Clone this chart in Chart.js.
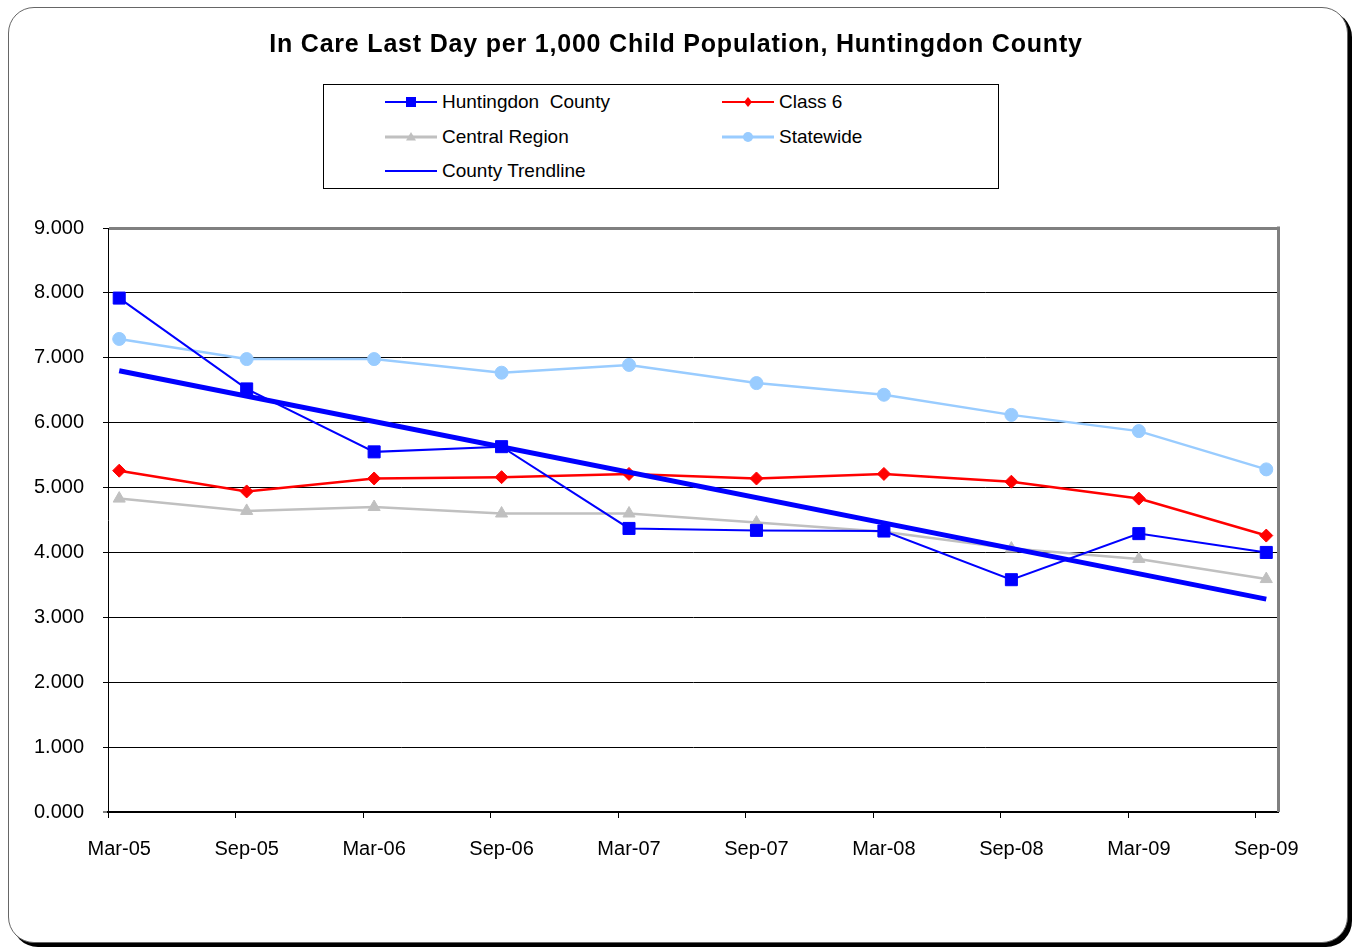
<!DOCTYPE html>
<html><head><meta charset="utf-8">
<script src="https://cdn.jsdelivr.net/npm/chart.js@4/dist/chart.umd.min.js"></script>
<style>
html,body{margin:0;padding:0;background:#fff;}
#wrap{position:relative;width:1356px;height:951px;overflow:hidden;font-family:"Liberation Sans",Arial,sans-serif;}
#frame{position:absolute;left:8px;top:7px;width:1338px;height:934px;border:1px solid #666;border-radius:26px;box-shadow:4px 4px 0 #000;background:#fff;}
#c{position:absolute;left:0;top:0;}
#title{position:absolute;left:0;width:1352px;top:29px;text-align:center;font-weight:bold;font-size:25px;letter-spacing:0.8px;color:#000;}
#legend{position:absolute;left:323px;top:84px;width:674px;height:103px;border:1px solid #000;background:#fff;}
.item{position:absolute;height:24px;line-height:24px;font-size:19px;white-space:pre;color:#000;}
.item canvas{position:absolute;left:0;top:0;}
.item span{position:absolute;left:57px;top:0;}
</style>
</head><body>
<div id="wrap">
  <div id="frame"></div>
  <canvas id="c" width="1356" height="951"></canvas>
  <div id="title">In Care Last Day per 1,000 Child Population, Huntingdon County</div>
  <div id="legend"></div>
</div>
<script>
// ---- data ----
const categories = ["Mar-05","Sep-05","Mar-06","Sep-06","Mar-07","Sep-07","Mar-08","Sep-08","Mar-09","Sep-09"];
const huntingdon = [7.92, 6.52, 5.55, 5.63, 4.37, 4.34, 4.33, 3.58, 4.29, 4.00];
const class6     = [5.26, 4.94, 5.14, 5.16, 5.21, 5.14, 5.21, 5.09, 4.83, 4.26];
const central    = [4.83, 4.64, 4.70, 4.60, 4.60, 4.46, 4.32, 4.06, 3.90, 3.59];
const statewide  = [7.29, 6.98, 6.98, 6.77, 6.89, 6.61, 6.43, 6.12, 5.87, 5.28];
const trendStart = 6.80;   // county trendline value at Mar-05
const trendEnd   = 3.28;   // county trendline value at Sep-09
const yTicks = [0,1,2,3,4,5,6,7,8,9];

const seriesNames = ["Huntingdon  County","Class 6","Central Region","Statewide","County Trendline"];

const toXY = arr => arr.map((v,i)=>({x:i,y:v}));

const datasets = [
  {label:seriesNames[0], data:toXY(huntingdon), borderColor:'#0000FF', backgroundColor:'#0000FF',
   borderWidth:2, pointStyle:'rect', pointRadius:8.5, pointBorderWidth:1, order:0},
  {label:seriesNames[4], data:[{x:0,y:trendStart},{x:categories.length-1,y:trendEnd}], borderColor:'#0000FF',
   backgroundColor:'#0000FF', borderWidth:5, pointRadius:0, order:1},
  {label:seriesNames[1], data:toXY(class6), borderColor:'#FF0000', backgroundColor:'#FF0000',
   borderWidth:2.5, pointStyle:'rectRot', pointRadius:6.5, pointBorderWidth:1, order:2},
  {label:seriesNames[2], data:toXY(central), borderColor:'#C0C0C0', backgroundColor:'#C0C0C0',
   borderWidth:2.5, pointStyle:'triangle', pointRadius:7, pointBorderWidth:1, order:3},
  {label:seriesNames[3], data:toXY(statewide), borderColor:'#99CCFF', backgroundColor:'#99CCFF',
   borderWidth:2.5, pointStyle:'circle', pointRadius:6.5, pointBorderWidth:1, order:4}
];

const plotFrame = {
  id:'plotFrame',
  beforeDatasetsDraw(chart){
    const {ctx, chartArea:a, scales} = chart;
    ctx.save();
    ctx.strokeStyle = '#808080';
    ctx.lineWidth = 3;
    ctx.beginPath();
    ctx.moveTo(a.right+0.5, a.top-1.5);
    ctx.lineTo(a.right+0.5, a.bottom);
    ctx.stroke();
    // category tick marks below the axis (sit at the left edge of each category slot)
    ctx.strokeStyle = '#000';
    ctx.lineWidth = 1;
    ctx.beginPath();
    categories.forEach((c,i)=>{
      const x = Math.round(scales.x.getPixelForValue(i - 0.088)) + 0.5;
      ctx.moveTo(x, a.bottom);
      ctx.lineTo(x, a.bottom + 6);
    });
    ctx.stroke();
    ctx.restore();
  }
};

new Chart(document.getElementById('c'), {
  type:'line',
  data:{datasets},
  options:{
    responsive:false,
    animation:false,
    events:[],
    layout:{padding:{left:0, top:228, right:78, bottom:0}},
    plugins:{legend:{display:false}, title:{display:false}, tooltip:{enabled:false}},
    elements:{line:{tension:0}},
    scales:{
      x:{
        type:'linear', min:-0.088, max:categories.length-1+0.092,
        afterBuildTicks(s){ s.ticks = categories.map((c,i)=>({value:i})); },
        afterFit(s){ s.height = 951-812; },
        grid:{drawOnChartArea:false, drawTicks:false, color:'#000'},
        border:{display:true, color:'#000', width:2},
        ticks:{callback:(v)=>categories[v], padding:25, color:'#000', maxRotation:0, autoSkip:false,
               font:{family:'"Liberation Sans", Arial, sans-serif', size:20}}
      },
      y:{
        min:0, max:9,
        afterBuildTicks(s){ s.ticks = yTicks.map(v=>({value:v})); },
        afterFit(s){ s.width = 108; },
        grid:{
          color:(c)=> c.tick && c.tick.value===9 ? '#808080' : '#000',
          lineWidth:(c)=> c.tick && c.tick.value===9 ? 3 : (c.tick && c.tick.value===0 ? 2 : 1),
          tickColor:'#000', tickLength:5, tickWidth:1
        },
        border:{display:true, color:'#000', width:1},
        ticks:{callback:(v)=>Number(v).toFixed(3), padding:19, color:'#000',
               font:{family:'"Liberation Sans", Arial, sans-serif', size:20}}
      }
    }
  },
  plugins:[plotFrame]
});

// ---- legend (HTML text, canvas icons) ----
function drawMarker(ctx, style, x, y, r, color){
  ctx.fillStyle = color; ctx.beginPath();
  if(style==='rect'){ ctx.rect(x-r, y-r, 2*r, 2*r); }
  else if(style==='rectRot'){ ctx.moveTo(x, y-r); ctx.lineTo(x+r*0.8, y); ctx.lineTo(x, y+r); ctx.lineTo(x-r*0.8, y); ctx.closePath(); }
  else if(style==='triangle'){ ctx.moveTo(x, y-r); ctx.lineTo(x+r, y+r*0.7); ctx.lineTo(x-r, y+r*0.7); ctx.closePath(); }
  else if(style==='circle'){ ctx.arc(x, y, r, 0, Math.PI*2); }
  ctx.fill();
}
const legendItems = [
  {ds:datasets[0], style:'rect', r:5, lw:2, left:61, top:5},
  {ds:datasets[2], style:'rectRot', r:5, lw:2, left:398, top:5},
  {ds:datasets[3], style:'triangle', r:5, lw:3, left:61, top:40},
  {ds:datasets[4], style:'circle', r:5, lw:3, left:398, top:40},
  {ds:datasets[1], style:null, r:0, lw:2, left:61, top:74}
];
const lg = document.getElementById('legend');
legendItems.forEach(it=>{
  const d = document.createElement('div');
  d.className='item'; d.style.left = it.left+'px'; d.style.top = it.top+'px';
  const cv = document.createElement('canvas'); cv.width=52; cv.height=24;
  const cx = cv.getContext('2d');
  cx.strokeStyle = it.ds.borderColor; cx.lineWidth = it.lw;
  cx.beginPath(); cx.moveTo(0,12); cx.lineTo(52,12); cx.stroke();
  if(it.style) drawMarker(cx, it.style, 26, 12, it.r, it.ds.borderColor);
  const sp = document.createElement('span'); sp.textContent = it.ds.label;
  d.appendChild(cv); d.appendChild(sp); lg.appendChild(d);
});
</script>
</body></html>
